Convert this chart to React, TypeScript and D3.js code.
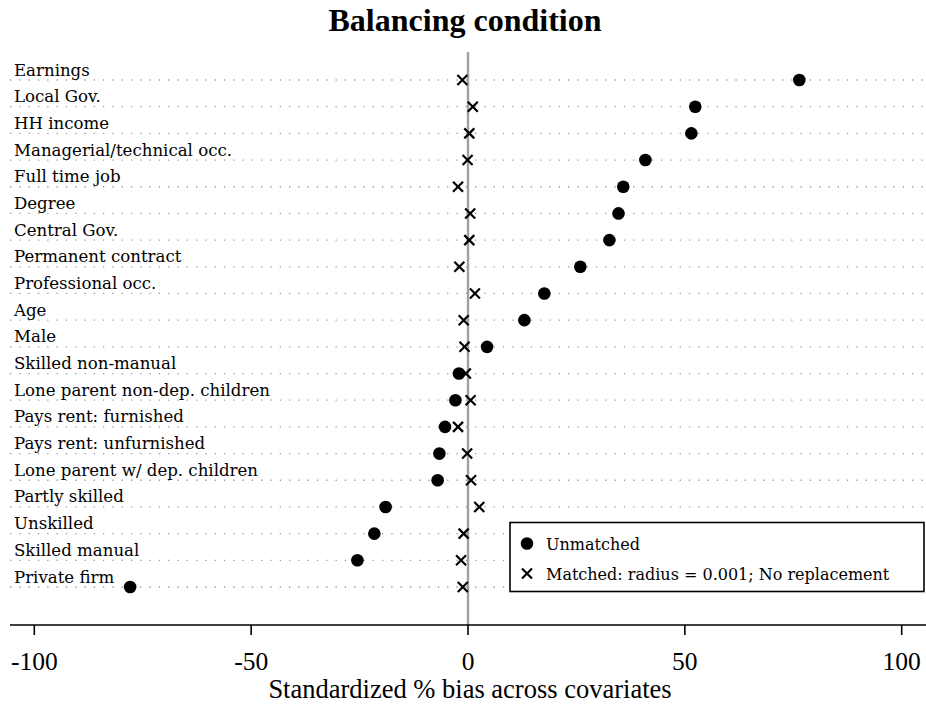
import React from "react";
import * as d3 from "d3";

const covariates = [
  "Earnings",
  "Local Gov.",
  "HH income",
  "Managerial/technical occ.",
  "Full time job",
  "Degree",
  "Central Gov.",
  "Permanent contract",
  "Professional occ.",
  "Age",
  "Male",
  "Skilled non-manual",
  "Lone parent non-dep. children",
  "Pays rent: furnished",
  "Pays rent: unfurnished",
  "Lone parent w/ dep. children",
  "Partly skilled",
  "Unskilled",
  "Skilled manual",
  "Private firm",
];

const unmatched = [
  76.4, 52.4, 51.5, 40.9, 35.8, 34.7, 32.6, 25.9, 17.6, 13.0, 4.4, -2.1, -2.9,
  -5.3, -6.6, -7.0, -19.0, -21.6, -25.5, -77.9,
];

const matched = [
  -1.3, 1.1, 0.3, -0.1, -2.3, 0.5, 0.3, -2.0, 1.6, -1.0, -0.8, -0.5, 0.6, -2.3,
  -0.2, 0.7, 2.6, -1.0, -1.6, -1.2,
];

const xTicks = [-100, -50, 0, 50, 100];

const W = 926;
const H = 707;

export default function App() {
  const x = d3.scaleLinear().domain([-100, 100]).range([34.3, 901.7]);
  const y = d3.scalePoint<string>().domain(covariates).range([80, 587]);
  const axisY = 625;
  const labelFont = "'DejaVu Serif', serif";
  const numFont = "'Liberation Serif', 'Times New Roman', serif";
  const xs = 5;

  const cross = (cx: number, cy: number, key: string) => (
    <g key={key} stroke="#000" strokeWidth={2.2}>
      <line x1={cx - xs} y1={cy - xs} x2={cx + xs} y2={cy + xs} />
      <line x1={cx - xs} y1={cy + xs} x2={cx + xs} y2={cy - xs} />
    </g>
  );

  return (
    <svg
      width={W}
      height={H}
      style={{ position: "absolute", left: 0, top: 0, background: "#fff" }}
    >
      <rect x={0} y={0} width={W} height={H} fill="#fff" />
      <text
        x={465}
        y={31}
        textAnchor="middle"
        fontFamily={numFont}
        fontWeight="bold"
        fontSize={32}
      >
        Balancing condition
      </text>

      {/* dotted row lines */}
      {covariates.map((c) => (
        <line
          key={"g" + c}
          x1={10}
          x2={W}
          y1={y(c)}
          y2={y(c)}
          stroke="#9a9a9a"
          strokeWidth={1.3}
          strokeDasharray="1.3 8"
        />
      ))}

      {/* row labels */}
      {covariates.map((c) => (
        <text
          key={"l" + c}
          x={14}
          y={(y(c) as number) - 4.5}
          fontFamily={labelFont}
          fontSize={16.6}
          fill="#000"
        >
          {c}
        </text>
      ))}

      {/* zero line */}
      <line
        x1={x(0)}
        x2={x(0)}
        y1={52}
        y2={axisY}
        stroke="#a0a0a0"
        strokeWidth={2.4}
      />

      {/* unmatched dots */}
      {covariates.map((c, i) => (
        <circle key={"u" + c} cx={x(unmatched[i])} cy={y(c)} r={6.3} fill="#000" />
      ))}

      {/* matched crosses */}
      {covariates.map((c, i) => cross(x(matched[i]), y(c) as number, "m" + c))}

      {/* x axis */}
      <line x1={10} x2={W} y1={axisY} y2={axisY} stroke="#000" strokeWidth={1.6} />
      {xTicks.map((t) => (
        <g key={"t" + t}>
          <line x1={x(t)} x2={x(t)} y1={axisY} y2={axisY + 10} stroke="#000" strokeWidth={1.6} />
          <text
            x={x(t)}
            y={axisY + 45}
            textAnchor="middle"
            fontFamily={numFont}
            fontSize={25.5}
          >
            {t}
          </text>
        </g>
      ))}
      <text
        x={470}
        y={698}
        textAnchor="middle"
        fontFamily={numFont}
        fontSize={26.5}
      >
        Standardized % bias across covariates
      </text>

      {/* legend */}
      <rect x={510} y={522.5} width={414} height={69} fill="#fff" stroke="#000" strokeWidth={1.6} />
      <circle cx={527} cy={543.5} r={6.3} fill="#000" />
      <text x={546} y={549.5} fontFamily={labelFont} fontSize={16}>
        Unmatched
      </text>
      {cross(527, 573.5, "legx")}
      <text x={546} y={579.5} fontFamily={labelFont} fontSize={16}>
        Matched: radius = 0.001; No replacement
      </text>
    </svg>
  );
}
